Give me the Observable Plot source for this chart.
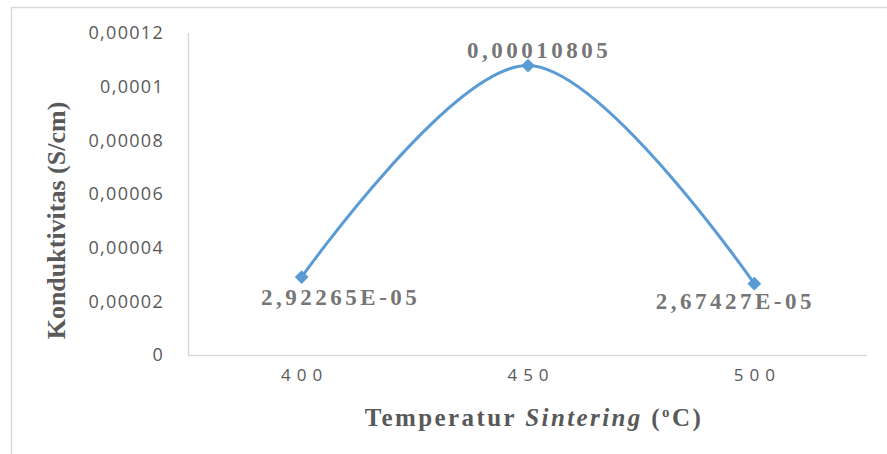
<!DOCTYPE html>
<html>
<head>
<meta charset="utf-8">
<script src="https://cdn.jsdelivr.net/npm/d3@7"></script>
<script src="https://cdn.jsdelivr.net/npm/@observablehq/plot@0.6"></script>
<style>
  html, body { margin: 0; padding: 0; background: #ffffff; }
</style>
</head>
<body>
<div id="chart"></div>
<script>
// ---- data ----
const temperatures = [400, 450, 500];
const conductivity = [2.92265e-5, 1.0805e-4, 2.67427e-5];
const pointLabels = ["2,92265E-05", "0,00010805", "2,67427E-05"];
const yTickValues = [0, 0.00002, 0.00004, 0.00006, 0.00008, 0.0001, 0.00012];
const yTickLabels = ["0", "0,00002", "0,00004", "0,00006", "0,00008", "0,0001", "0,00012"];
const xTickLabels = ["400", "450", "500"];
const xTitle = "Temperatur Sintering (oC)";
const yTitle = "Konduktivitas (S/cm)";

// ---- tables built from arrays ----
const points = temperatures.map((t, i) => ({t, v: conductivity[i], label: pointLabels[i]}));
const yTicks = yTickValues.map((v, i) => ({v, label: yTickLabels[i]}));
const xTicks = temperatures.map((t, i) => ({t, label: xTickLabels[i]}));

const xDomain = [375, 525];
const yDomain = [0, 0.00012];
const blue = "#5B9BD5";
const grid = "#d9d9d9";
const tickColor = "#595959";
const labelColor = "#767676";
const serif = "Liberation Serif, Times New Roman, serif";
const sans = "Open Sans, sans-serif";

const labelOffsets = [[39, 21], [11, -15.4], [-19, 17.5]];

const svg = Plot.plot({
  width: 887,
  height: 454,
  marginLeft: 188,
  marginRight: 20,
  marginTop: 33,
  marginBottom: 99,
  style: {background: "#ffffff", overflow: "visible"},
  x: {type: "linear", domain: xDomain, axis: null},
  y: {type: "linear", domain: yDomain, axis: null},
  marks: [
    // outer chart border
    Plot.frame({stroke: grid, strokeWidth: 1.5, insetLeft: -177, insetTop: -26, insetRight: -60, insetBottom: -150}),
    // axis lines
    Plot.ruleY([yDomain[0]], {stroke: grid, strokeWidth: 1.5}),
    Plot.ruleX([xDomain[0]], {y1: yDomain[0], y2: yDomain[1], stroke: grid, strokeWidth: 1.5}),
    // y tick labels
    Plot.text(yTicks, {y: "v", text: "label", frameAnchor: "left", textAnchor: "end", dx: -24.5,
      fill: tickColor, fontSize: 18, fontFamily: sans}),
    // x tick labels
    Plot.text(xTicks, {x: "t", text: "label", frameAnchor: "bottom", dy: 25, dx: 3,
      fill: tickColor, fontSize: 17, fontFamily: sans}),
    // axis titles
    Plot.text([xTitle], {text: d => d, frameAnchor: "bottom", textAnchor: "middle", dy: 70, dx: 6,
      fill: tickColor, fontSize: 25, fontWeight: "bold", fontFamily: serif}),
    Plot.text([yTitle], {text: d => d, frameAnchor: "left", textAnchor: "middle", rotate: -90, dx: -132, dy: 26,
      fill: tickColor, fontSize: 26, fontWeight: "bold", fontFamily: serif}),
    // series
    Plot.line(points, {x: "t", y: "v", curve: "cardinal", tension: 0, stroke: blue, strokeWidth: 3}),
    Plot.dot(points, {x: "t", y: "v", symbol: "diamond2", r: 6.2, fill: blue, stroke: "none"}),
    // data labels
    ...points.map((p, i) => Plot.text([p], {x: "t", y: "v", text: "label",
      dx: labelOffsets[i][0], dy: labelOffsets[i][1],
      fill: labelColor, fontSize: 23, fontWeight: "bold", fontFamily: serif}))
  ]
});

const s = d3.select(svg);
s.selectAll("text").each(function() {
  const txt = this.textContent;
  const el = d3.select(this);
  if (yTickLabels.includes(txt)) el.style("letter-spacing", "1.3px");
  else if (xTickLabels.includes(txt)) el.style("letter-spacing", "6px");
  else if (pointLabels.includes(txt)) el.style("letter-spacing", "3.5px");
  else if (txt === xTitle) {
    el.style("letter-spacing", "2.4px");
    el.text(null);
    el.append("tspan").text("Temperatur ");
    el.append("tspan").attr("font-style", "italic").text("Sintering");
    el.append("tspan").text(" (");
    el.append("tspan").attr("font-size", 15).attr("dy", -9).text("o");
    el.append("tspan").attr("dy", 9).text("C)");
  }
});

document.getElementById("chart").appendChild(svg);
</script>
</body>
</html>
